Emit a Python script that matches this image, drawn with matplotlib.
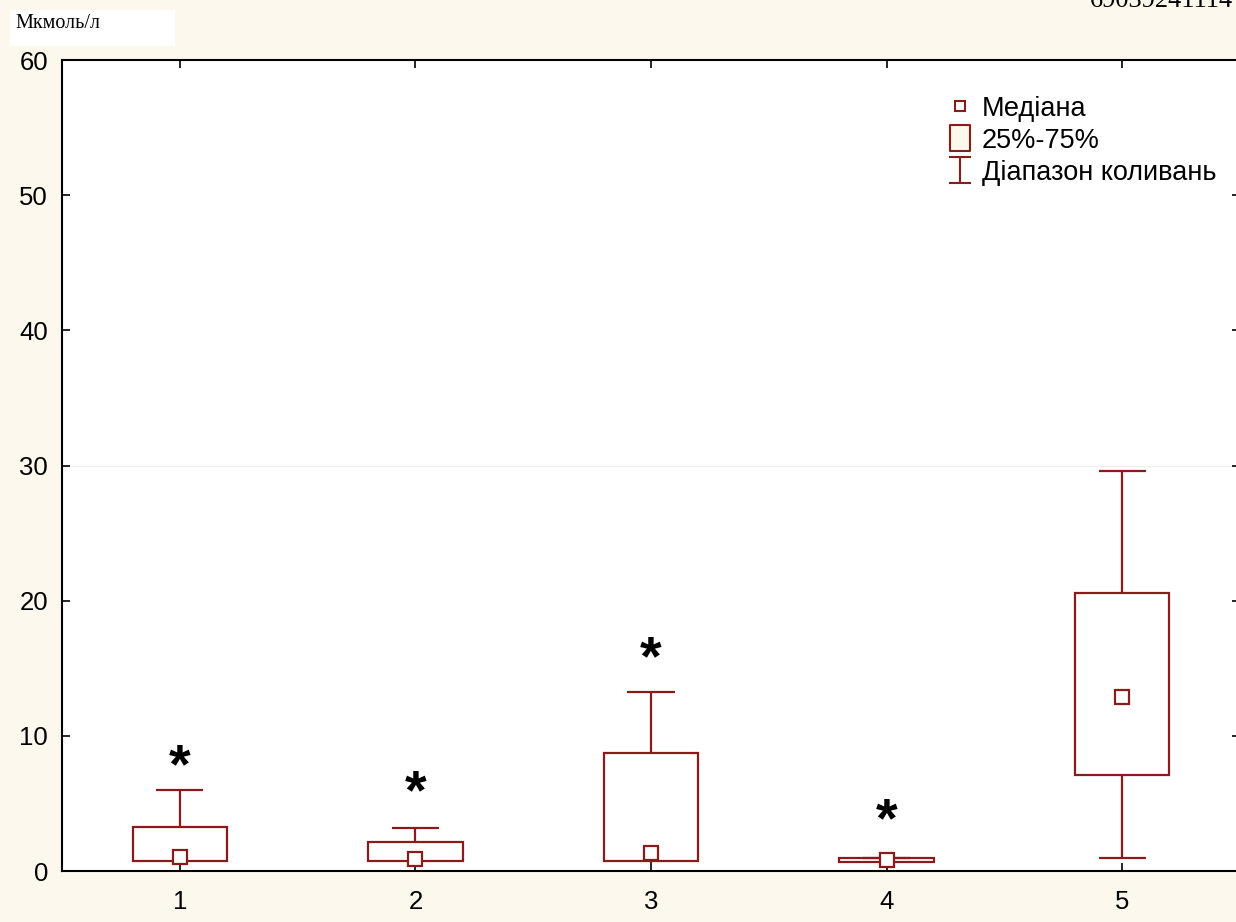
import matplotlib
matplotlib.use('Agg')
import matplotlib.pyplot as plt
from matplotlib.lines import Line2D
from matplotlib.patches import Rectangle
from matplotlib.path import Path

plt.rcParams['font.family'] = ['Liberation Sans', 'DejaVu Sans']

groups = [1, 2, 3, 4, 5]
range_min = [0.55, 0.6, 0.6, 0.6, 0.96]
q25 = [0.74, 0.74, 0.74, 0.67, 7.1]
median = [1.0, 0.89, 1.33, 0.8, 12.9]
q75 = [3.25, 2.14, 8.73, 0.96, 20.6]
range_max = [6.0, 3.18, 13.24, 0.96, 29.6]
star_y = [7.6, 5.7, 15.6, 3.6]  # significance marks for groups 1-4

red = '#8b1a1a'
bg = '#fdf8ee'

fig = plt.figure(figsize=(12.36, 9.22), dpi=100, facecolor=bg)
ax = fig.add_axes([62 / 1236, 1 - 871 / 922, 1178 / 1236, 811 / 922])
ax.set_facecolor('white')

# range whiskers with caps
ax.vlines(groups, range_min, q25, color=red, lw=1.6, zorder=2)
ax.vlines(groups, q75, range_max, color=red, lw=1.6, zorder=2)
ax.hlines(range_max, [g - 0.1 for g in groups], [g + 0.1 for g in groups], color=red, lw=1.6, zorder=2)
ax.hlines(range_min[4], groups[4] - 0.1, groups[4] + 0.1, color=red, lw=1.6, zorder=2)

# interquartile boxes
ax.bar(groups, [b - a for a, b in zip(q25, q75)], width=0.4, bottom=q25,
       fill=False, edgecolor=red, linewidth=1.6, zorder=3)

# medians
ax.plot(groups, median, 's', ms=10, mfc='white', mec=red, mew=1.6, ls='none', zorder=4)

for g, y in zip(groups[:4], star_y):
    ax.text(g, y, '*', ha='center', va='center', fontsize=40, fontweight='bold')

ax.axhline(30, color='#eeeeee', lw=0.8, zorder=0)

ax.set_xlim(0.5, 5.5)
ax.set_ylim(0, 60)
ax.set_xticks(groups)
ax.set_yticks(range(0, 61, 10))
ax.tick_params(direction='in', top=True, right=True, length=6, width=1.2,
               labelsize=18.5)
ax.tick_params(axis='y', pad=10)
ax.tick_params(axis='x', pad=13.5)
for s in ax.spines.values():
    s.set_linewidth(1.5)

# legend with marker-only handles
box_path = Path([(-0.39, -0.5), (0.39, -0.5), (0.39, 0.5), (-0.39, 0.5), (-0.39, -0.5)],
                [Path.MOVETO, Path.LINETO, Path.LINETO, Path.LINETO, Path.CLOSEPOLY])
cap_path = Path([(-0.42, 0.5), (0.42, 0.5), (0, 0.5), (0, -0.5), (-0.42, -0.5), (0.42, -0.5)],
                [Path.MOVETO, Path.LINETO, Path.MOVETO, Path.LINETO, Path.MOVETO, Path.LINETO])
handles = [
    Line2D([], [], marker='s', ms=7, mfc='white', mec=red, mew=1.5, ls='none'),
    Line2D([], [], marker=box_path, ms=19, mfc=bg, mec=red, mew=1.5, ls='none'),
    Line2D([], [], marker=cap_path, ms=19, mfc='none', mec=red, mew=1.5, ls='none'),
]
labels = ['Медіана', '25%-75%', 'Діапазон коливань']
ax.legend(handles, labels, loc='upper left', bbox_to_anchor=(0.751, 0.956),
          frameon=False, fontsize=19.5, handlelength=1.0,
          handletextpad=0.3, labelspacing=0.22, borderaxespad=0, borderpad=0)

# unit label on white patch and id string at top
fig.patches.append(Rectangle((10 / 1236, 1 - 46 / 922), 165 / 1236, 36 / 922,
                             transform=fig.transFigure, facecolor='white',
                             edgecolor='none', zorder=0))
fig.text(15 / 1236, 1 - 24 / 922, 'Мкмоль/л', family='Liberation Serif', fontsize=14.5,
         va='center', ha='left')
fig.text(1090 / 1236, 1 - 1 / 922, '69039241114', family='Liberation Serif', fontsize=19,
         va='center', ha='left')

fig.savefig('out.png', dpi=100, facecolor=bg)
